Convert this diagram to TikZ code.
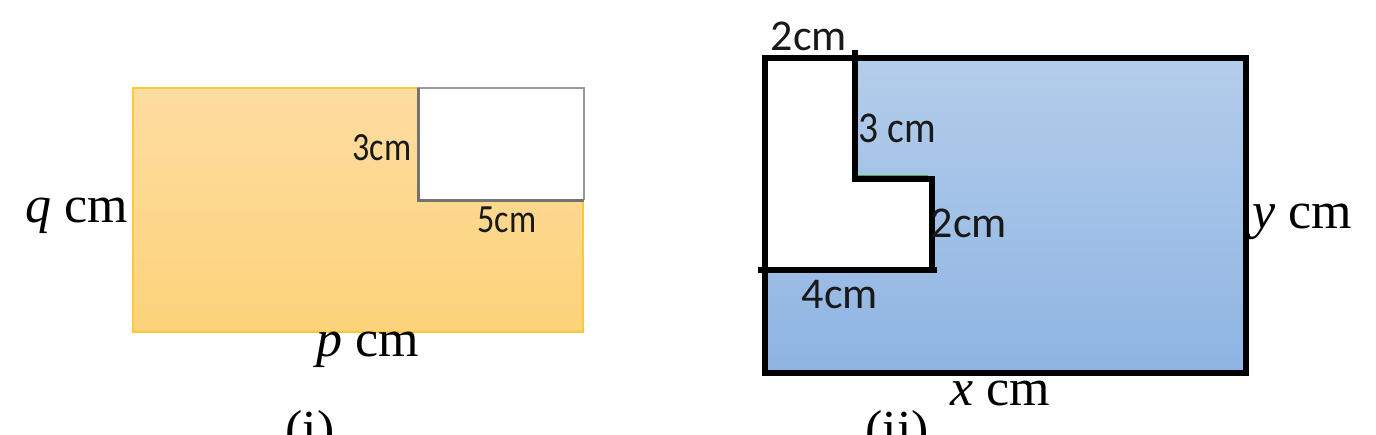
\documentclass[tikz,border=0pt]{standalone}
\usepackage{fontspec}
\setmainfont{Liberation Serif}
\newfontfamily\lblfont{Carlito}
\begin{document}
\begin{tikzpicture}[x=1pt,y=-1pt,
  sanslbl/.style={font=\lblfont\fontsize{40}{44}\selectfont, inner sep=0pt, text=black!90},
  seriflbl/.style={font=\fontsize{52}{56}\selectfont, inner sep=0pt},
  heavy/.style={line width=5.5pt, black},
]
\useasboundingbox (0,0) rectangle (1376,434);
% ---- figure (i)
\shade[top color={rgb,255:red,253;green,220;blue,160}, bottom color={rgb,255:red,253;green,211;blue,122}]
  (133,88) rectangle (583,332);
\draw[line width=1.2pt, color={rgb,255:red,255;green,200;blue,60}] (133,88) rectangle (583,332);
\fill[white] (418,88) rectangle (584,200);
\draw[line width=2pt, gray!80] (418,200) -- (418,88) -- (584,88) -- (584,200);
\draw[line width=3pt, gray!90!black] (418,88) -- (418,200) -- (584,200);
\node[sanslbl, xscale=0.85] (l3) at (382,148) {3cm};
\node[sanslbl, xscale=0.85] (l5) at (507,220) {5cm};
\node[seriflbl, anchor=east] (lq) at (128,216) {\textit{q} cm};
\node[seriflbl] (lp) at (368,350) {\textit{p} cm};
\node[seriflbl, anchor=north] (li) at (310,410) {(i)};
% ---- figure (ii)
\shade[top color={rgb,255:red,180;green,205;blue,234}, bottom color={rgb,255:red,142;green,180;blue,227}]
  (765,58) rectangle (1246,373);
\fill[white] (765,58) -- (855,58) -- (855,179) -- (932,179) -- (932,270) -- (765,270) -- cycle;
\draw[heavy] (765,58) rectangle (1246,373);
\draw[heavy] (855,50) -- (855,179);
\draw[line width=2pt, green!50!black!70] (858,175.5) -- (928,175.5);
\draw[heavy] (852,179) -- (935,179);
\draw[heavy] (932,179) -- (932,270);
\draw[heavy] (758,270) -- (937,270);
\node[sanslbl, font=\lblfont\fontsize{44}{48}\selectfont] (t2) at (809,36) {2cm};
\node[sanslbl, font=\lblfont\fontsize{44}{48}\selectfont, xscale=0.9] (t3) at (897,128) {3 cm};
\node[sanslbl, font=\lblfont\fontsize{44}{48}\selectfont] (m2) at (969,223) {2cm};
\node[sanslbl, font=\lblfont\fontsize{44}{48}\selectfont] (b4) at (840,295) {4cm};
\node[seriflbl, anchor=west] (ry) at (1252,222) {\textit{y} cm};
\node[seriflbl] (bx) at (1000,393) {\textit{x} cm};
\node[seriflbl, anchor=north] (bii) at (897,410) {(ii)};
\end{tikzpicture}
\end{document}
